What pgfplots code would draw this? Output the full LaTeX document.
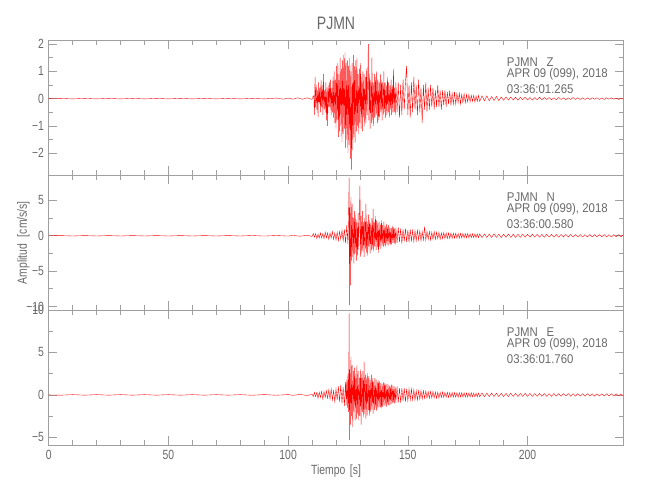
\documentclass[border=0pt]{standalone}
\usepackage{pgfplots}
\pgfplotsset{compat=1.18}
\usepackage{fontspec}
\setmainfont{Liberation Sans}[FakeStretch=0.78]
\newfontfamily\annfont{Liberation Sans}[FakeStretch=0.9]
\definecolor{axgray}{RGB}{160,160,160}
\definecolor{labgray}{RGB}{105,105,105}
\definecolor{trace}{RGB}{255,0,0}
\tikzset{ann/.style={anchor=base west, font=\annfont\fontsize{9.5}{11}\selectfont, text=labgray, inner sep=0pt}}
\pgfplotsset{
  panel/.style={
    scale only axis, width=431pt, height=101.25pt,
    xmin=0, xmax=240,
    axis line style={draw=axgray, line width=0.5pt},
    every tick/.style={draw=axgray, line width=0.5pt},
    tick align=inside, tick pos=both,
    major tick length=6.5pt, minor tick length=3.5pt,
    xtick={0,50,100,150,200}, minor x tick num=4,
    minor y tick num=1,
    ticklabel style={font=\fontsize{10}{12}\selectfont, text=labgray},
    /pgf/number format/assume math mode=true,
    anchor=south west,
  },
  trace/.style={draw=trace, line width=0.28pt, mark=none},
}
\begin{document}
\begin{tikzpicture}
\useasboundingbox (0,0) rectangle (487.5pt,375pt);
% ---------- Z ----------
\begin{axis}[panel, at={(36.5pt,243.75pt)}, ymin=-2.8, ymax=2.15, ytick={-2,-1,0,1,2}, yticklabels={−2,−1,0,1,2}, xticklabels={}]
\addplot[trace] coordinates {
(0,0)(5,0.01)(10,-0.01)(15,0.01)(20,-0.01)(25,0.01)(30,-0.01)(35,0.01)(40,-0.01)(45,0.01)(50,-0.01)(55,0.01)(60,-0.01)(65,0.01)(70,-0.01)(75,0.01)(80,-0.01)(85,0.01)(90,-0.01)(95,0.02)(98,-0.02)(100,0.02)(102,-0.02)(104,0.03)(106,-0.02)(108,0.03)(110,-0.03)(110.5,0.1)
(110.75,0.1)(111,-0.6)(111.25,0.8)(111.5,-0.3)(111.75,0.5)(112,-0.4)(112.25,0.3)(112.5,-0.7)(112.75,0.6)(113,-0.2)(113.25,0.4)(113.5,-0.5)(113.75,0.7)(114,-0.3)(114.25,0.5)(114.5,-0.6)(114.75,0.9)(115,-0.4)(115.25,0.3)(115.5,-0.5)(115.75,0.6)(116,-0.8)(116.25,0.4)(116.5,-1.0)(116.75,0.5)(117,-0.3)(117.25,0.6)(117.5,-0.4)(117.75,0.7)(118,-0.6)(118.25,0.4)(118.5,-0.5)(118.75,0.8)(119,-0.7)(119.25,1.0)(119.5,-0.9)(119.75,0.7)(120,-1.1)
(120.25,1.2)(120.5,-0.8)(120.75,1.3)(121,-1.4)(121.25,0.9)(121.5,-1.2)(121.75,1.5)(122,-1.0)(122.25,1.1)(122.5,-1.6)(122.75,1.4)(123,-1.3)(123.25,1.6)(123.5,-1.1)(123.75,1.7)(124,-1.8)(124.25,1.3)(124.5,-1.5)(124.75,1.4)(125,-2.0)(125.25,1.2)(125.5,-1.7)(125.75,1.5)(126,-2.2)(126.25,1.0)(126.5,-2.6)(126.75,1.3)(127,-1.9)(127.25,1.6)(127.5,-1.4)(127.75,1.2)(128,-1.6)(128.25,1.4)(128.5,-1.2)(128.75,1.5)(129,-1.0)(129.25,0.9)(129.5,-1.3)(129.75,1.1)(130,-0.9)
(130.25,1.3)(130.5,-1.1)(130.75,0.8)(131,-1.2)(131.25,1.0)(131.5,-0.7)(131.75,0.9)(132,-1.0)(132.25,0.8)(132.5,-0.9)(132.75,1.1)(133,-0.6)(133.25,0.7)(133.5,2.0)(133.75,-0.8)(134,0.9)(134.25,-1.1)(134.5,0.7)(134.75,-0.9)(135,1.5)(135.25,-0.8)(135.5,0.6)(135.75,-1.0)(136,0.9)(136.25,-0.7)(136.5,0.8)(136.75,-0.6)(137,1.0)(137.25,-0.9)(137.5,0.7)(137.75,-0.8)(138,0.6)(138.25,-0.7)(138.5,0.9)(138.75,-0.5)(139,0.7)(139.25,-0.8)(139.5,0.6)(139.75,-0.6)(140,1.0)
(140.25,-0.5)(140.5,0.6)(140.75,-0.7)(141,0.5)(141.25,-0.6)(141.5,0.8)(141.75,-0.5)(142,0.6)(142.25,-0.7)(142.5,0.5)(142.75,-0.4)(143,0.7)(143.25,-0.6)(143.5,0.5)(143.75,-0.5)(144,1.1)(144.25,-0.5)(144.5,0.4)(144.75,-0.6)(145,0.6)
(145.5,-0.5)(146,0.6)(146.5,-0.7)(147,0.5)(147.5,-0.6)(148,0.7)(148.5,-0.4)(149,0.6)(149.5,1.2)(150,-0.6)(150.5,0.5)(151,-0.7)(151.5,0.6)(152,-0.5)(152.5,0.8)(153,-0.4)(153.5,0.5)(154,-0.6)(154.5,0.7)(155,-0.5)(155.5,0.4)(156,-0.9)(156.5,0.5)(157,-0.4)(157.5,0.6)(158,-0.5)(158.5,0.4)(159,-0.4)(159.5,0.5)(160,-0.3)
(160.5,0.4)(161,-0.4)(161.5,0.3)(162,-0.3)(162.5,0.5)(163,-0.3)(163.5,0.3)(164,-0.4)(164.5,0.3)(165,-0.25)(165.5,0.3)(166,-0.3)(166.5,0.25)(167,-0.2)(167.5,0.3)(168,-0.25)(168.5,0.2)(169,-0.2)(169.5,0.25)(170,-0.2)(170.5,0.2)(171,-0.15)(171.5,0.2)(172,-0.2)(172.5,0.15)(173,-0.15)(173.5,0.18)(174,-0.15)(174.5,0.15)(175,-0.12)(175.5,0.15)(176,-0.12)(176.5,0.12)(177,-0.1)(177.5,0.12)(178,-0.12)(178.5,0.1)(179,-0.1)(179.5,0.12)(180,-0.1)
(181,0.1)(182,-0.08)(183,0.1)(184,-0.08)(185,0.08)(186,-0.07)(187,0.08)(188,-0.07)(189,0.06)(190,-0.06)(191,0.06)(192,-0.05)(193,0.06)(194,-0.05)(195,0.05)(196,-0.06)(197,0.05)(198,-0.04)(199,0.05)(200,-0.05)(201,0.04)(202,-0.05)(203,0.04)(204,-0.04)(205,0.05)(206,-0.04)(207,0.04)(208,-0.03)(209,0.04)(210,-0.04)(211,0.03)(212,-0.04)(213,0.04)(214,-0.03)(215,0.03)(216,-0.04)(217,0.03)(218,-0.03)(219,0.04)(220,-0.03)(221,0.03)(222,-0.03)(223,0.03)(224,-0.03)(225,0.03)(226,-0.03)(227,0.03)(228,-0.02)(229,0.03)(230,-0.03)(231,0.02)(232,-0.03)(233,0.03)(234,-0.02)(235,0.03)(236,-0.02)(237,0.02)(238,-0.03)(239,0.02)(240,-0.02)
};
\node[ann] at (rel axis cs:0.797,0.807) {PJMN\hspace{6.5pt}Z};
\node[ann] at (rel axis cs:0.797,0.721) {APR 09 (099), 2018};
\node[ann] at (rel axis cs:0.797,0.600) {03:36:01.265};
\end{axis}
% ---------- N ----------
\begin{axis}[panel, at={(36.5pt,142.5pt)}, ymin=-10.5, ymax=8.6, ytick={-10,-5,0,5}, yticklabels={−10,−5,0,5}, xticklabels={}]
\addplot[trace] coordinates {
(0,0)(5,0.03)(10,-0.03)(15,0.03)(20,-0.03)(25,0.03)(30,-0.03)(35,0.03)(40,-0.03)(45,0.03)(50,-0.03)(55,0.03)(60,-0.03)(65,0.03)(70,-0.03)(75,0.03)(80,-0.03)(85,0.04)(90,-0.04)(95,0.04)(100,-0.04)(102,0.05)(105,-0.06)(108,0.08)(110,-0.1)
(110.5,0.3)(111,-0.2)(111.5,0.3)(112,-0.4)(112.5,0.2)(113,-0.3)(113.5,0.4)(114,-0.3)(114.5,0.3)(115,-0.4)(115.5,0.5)(116,-0.3)(116.5,0.4)(117,-0.5)(117.5,0.4)(118,-0.3)(118.5,0.6)(119,-0.5)(119.5,0.4)(120,-0.6)(120.5,0.5)(121,-0.7)(121.5,0.6)(122,-0.5)(122.5,0.8)(123,-0.7)(123.5,0.9)(124,-1.0)(124.5,1.5)(125,-1.2)(125.25,3.0)(125.5,8.2)(125.6,-9.8)(125.75,4.0)
(126,-7.0)(126.25,5.5)(126.5,-3.5)(126.75,4.5)(127,-3.0)(127.25,2.5)(127.5,-4.0)(127.75,3.5)(128,-2.5)(128.25,3.0)(128.5,-3.5)(128.75,2.0)(129,-2.8)(129.25,3.2)(129.5,-2.0)(129.75,2.5)(130,7.1)(130.25,-3.0)(130.5,2.8)(130.75,-2.5)(131,3.5)(131.25,-2.2)(131.5,2.0)(131.75,-3.0)(132,2.5)(132.25,-1.8)(132.5,4.5)(132.75,-2.5)(133,2.0)(133.25,-2.8)(133.5,3.0)(133.75,-1.5)(134,2.2)(134.25,-2.5)(134.5,1.8)(134.75,-2.0)(135,2.5)(135.25,-1.8)(135.5,3.8)(135.75,-2.2)
(136,1.9)(136.25,-1.5)(136.5,2.8)(136.75,-2.0)(137,2.2)(137.25,-1.6)(137.5,1.8)(137.75,-2.4)(138,2.0)(138.25,-1.5)(138.5,1.6)(138.75,-1.8)(139,2.2)(139.25,-1.4)(139.5,1.5)(139.75,-1.6)(140,2.0)(140.25,-1.3)(140.5,1.4)(140.75,-1.5)(141,1.7)(141.25,-1.2)(141.5,1.3)(141.75,-1.4)(142,1.5)(142.25,-1.1)(142.5,1.2)(142.75,-1.3)(143,1.1)(143.25,-1.2)(143.5,1.4)(143.75,-1.0)(144,1.2)(144.25,-1.1)(144.5,1.0)(144.75,-1.2)(145,1.1)
(145.5,-1.0)(146,1.2)(146.5,-0.9)(147,1.0)(147.5,-1.1)(148,0.9)(148.5,-0.8)(149,1.0)(149.5,-0.9)(150,0.8)(150.5,-0.9)(151,0.9)(151.5,-0.7)(152,0.8)(152.5,-0.8)(153,0.7)(153.5,-0.7)(154,0.8)(154.5,-0.6)(155,0.7)(155.5,-0.7)(156,0.6)(156.5,-0.6)(157,1.3)(157.5,-0.6)(158,0.6)(158.5,-0.5)(159,0.6)(159.5,-0.6)(160,0.5)
(160.5,-0.5)(161,0.6)(161.5,-0.5)(162,0.5)(162.5,-0.4)(163,0.5)(163.5,-0.5)(164,0.4)(164.5,-0.4)(165,0.45)(165.5,-0.4)(166,0.4)(166.5,-0.38)(167,0.4)(167.5,-0.37)(168,0.38)(168.5,-0.35)(169,0.37)(169.5,-0.34)(170,0.35)(170.5,-0.33)(171,0.34)(171.5,-0.32)(172,0.33)(172.5,-0.3)(173,0.31)(173.5,-0.3)(174,0.3)(174.5,-0.28)(175,0.3)(175.5,-0.28)(176,0.28)(176.5,-0.27)(177,0.28)(177.5,-0.27)(178,0.27)(178.5,-0.26)(179,0.27)(179.5,-0.26)(180,0.26)
(181,-0.25)(182,0.26)(183,-0.24)(184,0.25)(185,-0.24)(186,0.27)(187,-0.23)(188,0.24)(189,-0.24)(190,0.23)(191,-0.22)(192,0.24)(193,-0.22)(194,0.22)(195,-0.23)(196,0.21)(197,-0.21)(198,0.22)(199,-0.2)(200,0.21)(201,-0.2)(202,0.21)(203,-0.19)(204,0.2)(205,-0.2)(206,0.19)(207,-0.2)(208,0.19)(209,-0.18)(210,0.19)(211,-0.18)(212,0.18)(213,-0.19)(214,0.18)(215,-0.17)(216,0.18)(217,-0.17)(218,0.18)(219,-0.17)(220,0.17)(221,-0.18)(222,0.16)(223,-0.17)(224,0.17)(225,-0.16)(226,0.17)(227,-0.16)(228,0.16)(229,-0.16)(230,0.16)(231,-0.15)(232,0.16)(233,-0.15)(234,0.15)(235,-0.15)(236,0.15)(237,-0.14)(238,0.15)(239,-0.14)(240,0.14)
};
\node[ann] at (rel axis cs:0.797,0.807) {PJMN\hspace{6.5pt}N};
\node[ann] at (rel axis cs:0.797,0.721) {APR 09 (099), 2018};
\node[ann] at (rel axis cs:0.797,0.600) {03:36:00.580};
\end{axis}
% ---------- E ----------
\begin{axis}[panel, at={(36.5pt,41.25pt)}, ymin=-5.9, ymax=10, ytick={-5,0,5,10}, yticklabels={−5,0,5,10}]
\addplot[trace] coordinates {
(0,0)(5,-0.03)(10,0.03)(15,-0.03)(20,0.03)(25,-0.03)(30,0.03)(35,-0.03)(40,0.03)(45,-0.03)(50,0.03)(55,-0.03)(60,0.03)(65,-0.03)(70,0.03)(75,-0.03)(80,0.03)(85,-0.04)(90,0.04)(95,-0.04)(100,0.04)(102,-0.05)(105,0.06)(108,-0.08)(110,0.1)
(110.5,-0.2)(111,0.3)(111.5,-0.2)(112,0.3)(112.5,-0.4)(113,0.3)(113.5,-0.3)(114,0.4)(114.5,-0.5)(115,0.4)(115.5,-0.3)(116,0.5)(116.5,-0.4)(117,0.6)(117.5,-0.5)(118,0.7)(118.5,-0.6)(119,0.5)(119.5,-0.8)(120,0.7)(120.5,-0.6)(121,1.0)(121.5,-0.8)(122,1.2)(122.5,-1.0)(123,0.9)(123.5,-1.3)(124,1.5)(124.25,-1.2)(124.5,1.8)(124.75,-1.5)(125,2.5)(125.25,-2.0)(125.5,9.6)(125.6,-5.3)(125.75,3.0)
(126,-3.5)(126.25,4.5)(126.5,-2.5)(126.75,3.5)(127,-3.8)(127.25,2.8)(127.5,-2.0)(127.75,3.2)(128,-3.0)(128.25,2.5)(128.5,-2.8)(128.75,3.5)(129,-2.2)(129.25,2.8)(129.5,-3.0)(129.75,2.0)(130,-2.5)(130.25,3.0)(130.5,-3.5)(130.75,2.5)(131,-2.0)(131.25,2.8)(131.5,-2.6)(131.75,3.9)(132,-2.2)(132.25,2.4)(132.5,-2.8)(132.75,2.0)(133,-2.4)(133.25,2.6)(133.5,-1.8)(133.75,2.2)(134,-2.5)(134.25,1.8)(134.5,-2.0)(134.75,2.4)(135,-1.7)(135.25,2.0)(135.5,-2.2)(135.75,1.6)
(136,-1.8)(136.25,2.0)(136.5,-1.5)(136.75,1.8)(137,-1.9)(137.25,1.5)(137.5,-1.6)(137.75,1.7)(138,-1.4)(138.25,1.6)(138.5,-1.5)(138.75,1.4)(139,-1.6)(139.25,1.3)(139.5,-1.4)(139.75,1.5)(140,-1.2)(140.25,1.4)(140.5,-1.3)(140.75,1.2)(141,-1.4)(141.25,1.3)(141.5,-1.1)(141.75,1.2)(142,-1.2)(142.25,1.1)(142.5,-1.2)(142.75,1.0)(143,-1.1)(143.25,1.2)(143.5,-1.0)(143.75,1.1)(144,-0.9)(144.25,1.0)(144.5,-1.0)(144.75,0.9)(145,-0.9)
(145.5,1.0)(146,-0.9)(146.5,0.8)(147,-0.9)(147.5,0.8)(148,-0.7)(148.5,0.8)(149,-0.8)(149.5,0.7)(150,-0.7)(150.5,0.7)(151,-0.6)(151.5,0.7)(152,-0.6)(152.5,0.6)(153,-0.6)(153.5,0.5)(154,-0.6)(154.5,0.5)(155,-0.5)(155.5,0.5)(156,-0.5)(156.5,0.5)(157,-0.4)(157.5,0.45)(158,-0.4)(158.5,0.4)(159,-0.4)(159.5,0.4)(160,-0.35)
(160.5,0.4)(161,-0.35)(161.5,0.35)(162,-0.4)(162.5,0.3)(163,-0.35)(163.5,0.3)(164,-0.3)(164.5,0.35)(165,-0.3)(165.5,0.3)(166,-0.28)(166.5,0.3)(167,-0.3)(167.5,0.27)(168,-0.28)(168.5,0.3)(169,-0.25)(169.5,0.28)(170,-0.26)(170.5,0.25)(171,-0.28)(171.5,0.25)(172,-0.24)(172.5,0.26)(173,-0.24)(173.5,0.25)(174,-0.25)(174.5,0.22)(175,-0.24)(175.5,0.23)(176,-0.22)(176.5,0.24)(177,-0.22)(177.5,0.22)(178,-0.23)(178.5,0.21)(179,-0.22)(179.5,0.22)(180,-0.21)
(181,0.22)(182,-0.2)(183,0.21)(184,-0.2)(185,0.22)(186,-0.19)(187,0.2)(188,-0.2)(189,0.19)(190,-0.2)(191,0.18)(192,-0.19)(193,0.2)(194,-0.18)(195,0.18)(196,-0.19)(197,0.17)(198,-0.18)(199,0.18)(200,-0.17)(201,0.18)(202,-0.17)(203,0.16)(204,-0.17)(205,0.17)(206,-0.16)(207,0.16)(208,-0.17)(209,0.15)(210,-0.16)(211,0.16)(212,-0.15)(213,0.15)(214,-0.16)(215,0.15)(216,-0.14)(217,0.15)(218,-0.15)(219,0.14)(220,-0.14)(221,0.15)(222,-0.14)(223,0.13)(224,-0.14)(225,0.14)(226,-0.13)(227,0.13)(228,-0.14)(229,0.13)(230,-0.13)(231,0.12)(232,-0.13)(233,0.13)(234,-0.12)(235,0.12)(236,-0.13)(237,0.12)(238,-0.12)(239,0.12)(240,-0.12)
};
\node[ann] at (rel axis cs:0.797,0.807) {PJMN\hspace{6.5pt}E};
\node[ann] at (rel axis cs:0.797,0.721) {APR 09 (099), 2018};
\node[ann] at (rel axis cs:0.797,0.600) {03:36:01.760};
\end{axis}
% ---------- titles ----------
\node[font=\fontsize{13.5}{15}\selectfont, text=labgray] at (252pt,357.4pt) {PJMN};
\node[font=\fontsize{10}{12}\selectfont, text=labgray] at (252pt,21.4pt) {Tiempo\hspace{0.35em}[s]};
\node[font=\fontsize{10}{12}\selectfont, text=labgray, rotate=90] at (17.6pt,193pt) {Amplitud\hspace{0.5em}[cm/s/s]};
\end{tikzpicture}
\end{document}
